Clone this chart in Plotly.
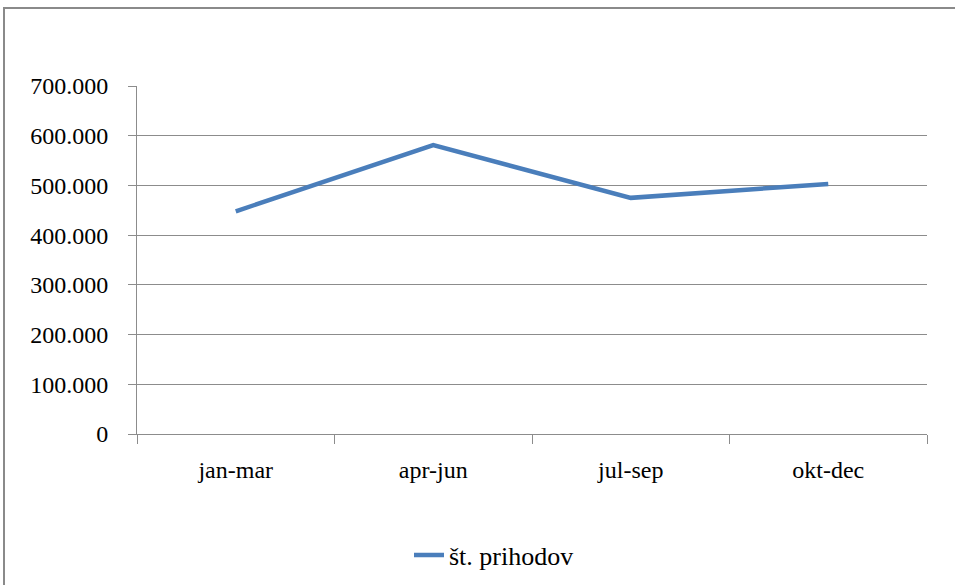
import plotly.graph_objects as go

categories = ["jan-mar", "apr-jun", "jul-sep", "okt-dec"]
values = [448000, 581000, 475000, 503000]
series_name = "št. prihodov"
y_ticks = [0, 100000, 200000, 300000, 400000, 500000, 600000, 700000]

FONT = "Liberation Serif"
GRID = "#8c8c8c"

fig = go.Figure()
fig.add_trace(go.Scatter(
    x=categories, y=values, mode="lines", name=series_name,
    line=dict(color="#4a7ebb", width=4.5),
))

L, R, T, B = 137, 28, 86, 151
W, H = 955, 585
pw, ph = W - L - R, H - T - B

def px_x(x):
    return (x - L) / pw

def px_y(y):
    return (H - B - y) / ph

fig.update_layout(
    width=W, height=H,
    margin=dict(l=L, r=R, t=T, b=B, pad=0, autoexpand=False),
    paper_bgcolor="white", plot_bgcolor="white",
    separators=",.",
    font=dict(family=FONT, size=24, color="black"),
    showlegend=True,
    legend=dict(x=px_x(494), y=px_y(555), xanchor="center", yanchor="middle",
                orientation="h", font=dict(family=FONT, size=26),
                bgcolor="rgba(0,0,0,0)"),
    xaxis=dict(
        type="category", range=[-0.5, 3.5], tickson="boundaries",
        ticks="outside", ticklen=9, tickcolor=GRID, tickwidth=1,
        showline=True, linecolor=GRID, linewidth=1,
        showgrid=False, zeroline=False, fixedrange=True, automargin=False,
        ticklabelstandoff=14,
        tickfont=dict(family=FONT, size=24),
    ),
    yaxis=dict(
        range=[0, 700000], tickvals=y_ticks, tickformat=",d",
        ticks="outside", ticklen=8, tickcolor=GRID, tickwidth=1,
        showline=True, linecolor=GRID, linewidth=1,
        showgrid=True, gridcolor=GRID, gridwidth=1,
        zeroline=False, fixedrange=True, automargin=False,
        ticklabelstandoff=15,
        tickfont=dict(family=FONT, size=24),
    ),
    shapes=[dict(
        type="rect", xref="paper", yref="paper",
        x0=px_x(4), x1=px_x(962), y0=px_y(592), y1=px_y(8),
        line=dict(color="#8a8a8a", width=2), fillcolor="rgba(0,0,0,0)",
        layer="below",
    )],
)

fig.write_html("out.html", config={"displayModeBar": False},
               post_script="document.body.style.margin='0px';")
